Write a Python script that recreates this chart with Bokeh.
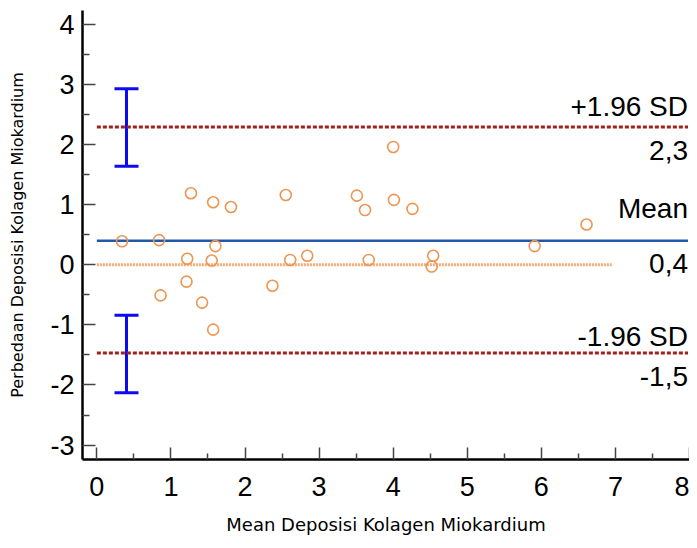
from bokeh.plotting import figure
from bokeh.models import (ColumnDataSource, Range1d, FixedTicker, Whisker, TeeHead)
from bokeh.core.properties import value
from bokeh.embed import file_html
from bokeh.resources import INLINE

# ---- data ----
mean_vals = [0.34, 0.84, 0.86, 1.27, 1.57, 1.81, 1.60, 1.22, 1.55, 1.21, 1.42, 1.57, 2.37,
             2.55, 2.61, 2.84, 4.00, 3.51, 3.62, 4.01, 4.26, 3.67, 4.54, 4.52, 5.91, 6.61]
diff_vals = [0.39, 0.41, -0.51, 1.19, 1.04, 0.96, 0.31, 0.10, 0.07, -0.28, -0.63, -1.08, -0.35,
             1.16, 0.08, 0.15, 1.96, 1.15, 0.91, 1.08, 0.93, 0.08, 0.15, -0.03, 0.31, 0.67]

loa_values = [2.29, 0.40, -1.47]
loa_names = ["+1.96 SD", "Mean", "-1.96 SD"]
loa_texts = ["2,3", "0,4", "-1,5"]

ci_x = [0.40, 0.40]
ci_upper = [2.93, -0.84]
ci_lower = [1.64, -2.13]

zero_line_end = 6.95
line_start = 0.0
line_end = 7.98

x_ticks = [0, 1, 2, 3, 4, 5, 6, 7, 8]
x_tick_labels = ["0", "1", "2", "3", "4", "5", "6", "7", "8"]
y_ticks = [-3, -2, -1, 0, 1, 2, 3, 4]
y_tick_labels = ["-3", "-2", "-1", "0", "1", "2", "3", "4"]

# ---- figure ----
p = figure(width=689, height=540, output_backend="svg", toolbar_location=None,
           x_range=Range1d(-0.194, 8.0), y_range=Range1d(-3.24, 4.23),
           min_border_left=82, min_border_right=0, min_border_top=10, min_border_bottom=81)
p.outline_line_color = None
p.grid.visible = False
p.background_fill_color = "white"

tick_font = "Liberation Sans"
for ax in (p.xaxis[0], p.yaxis[0]):
    ax.axis_line_width = 2.5
    ax.axis_line_color = "black"
    ax.major_tick_line_color = "#444444"
    ax.minor_tick_line_color = "#444444"
    ax.major_tick_line_width = 1.5
    ax.minor_tick_line_width = 1.5
    ax.major_tick_out = 0
    ax.minor_tick_out = 0
    ax.major_label_text_font = tick_font
    ax.major_label_text_font_size = "27px"
    ax.major_label_text_color = "black"
    ax.axis_label_text_font = "DejaVu Sans"
    ax.axis_label_text_font_style = "normal"
    ax.axis_label_text_color = "black"

p.xaxis.ticker = FixedTicker(ticks=x_ticks, minor_ticks=[v + 0.5 for v in x_ticks[:-1]])
p.yaxis.ticker = FixedTicker(ticks=y_ticks, minor_ticks=[v + 0.5 for v in y_ticks[:-1]])
p.xaxis.major_label_overrides = {t: s for t, s in zip(x_ticks, x_tick_labels)}
p.yaxis.major_label_overrides = {t: s for t, s in zip(y_ticks, y_tick_labels)}
p.xaxis.major_tick_in = 12
p.xaxis.minor_tick_in = 6
p.yaxis.major_tick_in = 13
p.yaxis.minor_tick_in = 7
p.xaxis.major_label_standoff = 17
p.yaxis.major_label_standoff = 8

p.xaxis.axis_label = "Mean Deposisi Kolagen Miokardium"
p.yaxis.axis_label = "Perbedaan Deposisi Kolagen Miokardium"
p.xaxis.axis_label_text_font_size = "18px"
p.yaxis.axis_label_text_font_size = "16px"
p.xaxis.axis_label_standoff = 15
p.yaxis.axis_label_standoff = 20

# zero line (orange dotted)
p.segment(x0=[line_start], y0=[0], x1=[zero_line_end], y1=[0],
          line_color="#F6AB74", line_width=3, line_dash="2 1")

# mean line (blue)
p.segment(x0=[line_start], y0=[loa_values[1]], x1=[line_end], y1=[loa_values[1]],
          line_color="#2159A6", line_width=2.5)

# limits of agreement (dark red dotted)
p.segment(x0=[line_start, line_start], y0=[loa_values[0], loa_values[2]],
          x1=[line_end, line_end], y1=[loa_values[0], loa_values[2]],
          line_color="#A3201F", line_width=3, line_dash="4 2")

# confidence intervals of LoA (blue whiskers)
ci_src = ColumnDataSource(dict(base=ci_x, upper=ci_upper, lower=ci_lower))
wh = Whisker(source=ci_src, base="base", upper="upper", lower="lower", dimension="height",
             line_color="#0A0AF5", line_width=3,
             upper_head=TeeHead(size=24, line_color="#0A0AF5", line_width=3),
             lower_head=TeeHead(size=24, line_color="#0A0AF5", line_width=3))
p.add_layout(wh)

# data points
src = ColumnDataSource(dict(x=mean_vals, y=diff_vals))
p.scatter("x", "y", source=src, marker="circle", size=11, fill_color=None,
          line_color="#EC9654", line_width=1.6)

# labels
lab_x = [line_end] * 3
name_src = ColumnDataSource(dict(x=lab_x, y=loa_values, t=loa_names, off=[-21, -32, -17]))
val_src = ColumnDataSource(dict(x=lab_x, y=loa_values, t=loa_texts, off=[23, 23, 23]))
p.text("x", "y", text="t", source=name_src, y_offset="off", text_align="right",
       text_baseline="alphabetic", text_font=value(tick_font), text_font_size="28px",
       text_color="black")
p.text("x", "y", text="t", source=val_src, y_offset="off", text_align="right",
       text_baseline="alphabetic", text_font=value(tick_font), text_font_size="28px",
       text_color="black")

open("out.html", "w").write(file_html(p, INLINE))
